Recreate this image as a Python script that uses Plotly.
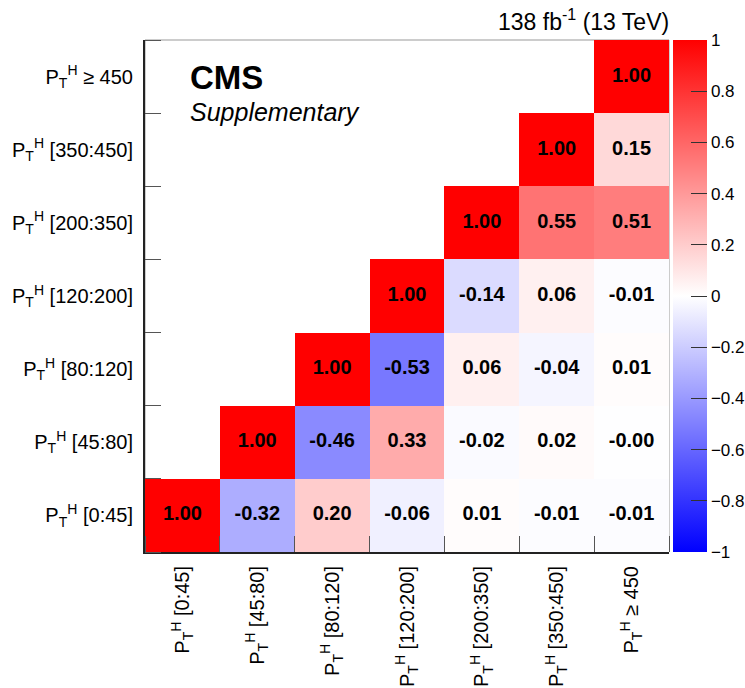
import plotly.graph_objects as go

# bins (bottom-to-top on y, left-to-right on x)
bin_labels = ["[0:45]", "[45:80]", "[80:120]", "[120:200]", "[200:350]", "[350:450]", "\u2265 450"]
tick_text = ["P<sub>T</sub><sup>H</sup> " + b for b in bin_labels]

# correlation matrix rows (row index = y bin), None = empty cell
row_0_45    = [1.00, -0.32,  0.20, -0.06,  0.01, -0.01, -0.01]
row_45_80   = [None,  1.00, -0.46,  0.33, -0.02,  0.02, -0.004]
row_80_120  = [None,  None,  1.00, -0.53,  0.06, -0.04,  0.01]
row_120_200 = [None,  None,  None,  1.00, -0.14,  0.06, -0.01]
row_200_350 = [None,  None,  None,  None,  1.00,  0.55,  0.51]
row_350_450 = [None,  None,  None,  None,  None,  1.00,  0.15]
row_450_inf = [None,  None,  None,  None,  None,  None,  1.00]

z = [row_0_45, row_45_80, row_80_120, row_120_200, row_200_350, row_350_450, row_450_inf]

n = len(bin_labels)
idx = list(range(n))
edges = [i - 0.5 for i in range(n + 1)]

# cell labels only for filled cells
lab_x, lab_y, lab_t = [], [], []
for yi, r in enumerate(z):
    for xi, v in enumerate(r):
        if v is not None:
            lab_x.append(xi)
            lab_y.append(yi)
            lab_t.append(f"<b>{v:.2f}</b>")

FONT = "Liberation Sans, Arial, Helvetica, sans-serif"

fig = go.Figure()
fig.add_trace(go.Heatmap(
    x=idx, y=idx, z=z,
    colorscale=[[0, "rgb(0,0,255)"], [0.5, "rgb(255,255,255)"], [1, "rgb(255,0,0)"]],
    zmin=-1, zmax=1,
    xgap=0, ygap=0,
    hoverongaps=False,
    colorbar=dict(
        x=1.007, xanchor="left", xpad=0, ypad=0,
        y=0.5, yanchor="middle", len=1, lenmode="fraction",
        thickness=34, thicknessmode="pixels",
        outlinewidth=0,
        tickmode="linear", tick0=-1, dtick=0.2,
        ticks="inside", ticklen=16, tickwidth=1, tickcolor="#333",
        tickfont=dict(family=FONT, size=17, color="black"),
    ),
))
fig.add_trace(go.Scatter(
    x=lab_x, y=lab_y, text=lab_t, mode="text",
    textposition="middle center",
    textfont=dict(family=FONT, size=20, color="black"),
    showlegend=False, hoverinfo="skip",
))

axis_common = dict(
    range=[-0.5, n - 0.5],
    tickmode="array", tickvals=idx, ticktext=tick_text,
    ticks="", showgrid=False, zeroline=False,
    showline=True, linecolor="#222", linewidth=2,
    tickfont=dict(family=FONT, size=20, color="black"),
    minor=dict(tickmode="array", tickvals=edges, ticks="inside",
               ticklen=16, tickwidth=1, tickcolor="#555", showgrid=False),
)

fig.update_layout(
    width=745, height=688,
    margin=dict(l=145, r=76, t=40, b=136, autoexpand=False),
    paper_bgcolor="white", plot_bgcolor="white",
    font=dict(family=FONT, color="black"),
    showlegend=False,
    xaxis=dict(axis_common, tickangle=-90, ticklabelstandoff=4),
    yaxis=dict(axis_common, ticklabelstandoff=6),
    shapes=[dict(type="rect", xref="paper", yref="paper", x0=0, x1=1, y0=0, y1=1,
                 line=dict(color="#999", width=1), layer="below")],
    annotations=[
        dict(text="<b>CMS</b>", xref="paper", yref="paper", x=0.083, y=0.926,
             xanchor="left", yanchor="middle", showarrow=False,
             font=dict(family=FONT, size=33, color="black")),
        dict(text="<i>Supplementary</i>", xref="paper", yref="paper", x=0.083, y=0.859,
             xanchor="left", yanchor="middle", showarrow=False,
             font=dict(family=FONT, size=25, color="black")),
        dict(text="138 fb<sup>-1</sup> (13 TeV)", xref="paper", yref="paper", x=1.003, y=1.039,
             xanchor="right", yanchor="middle", showarrow=False,
             font=dict(family=FONT, size=23, color="black")),
    ],
)

fig.write_html("out.html")
